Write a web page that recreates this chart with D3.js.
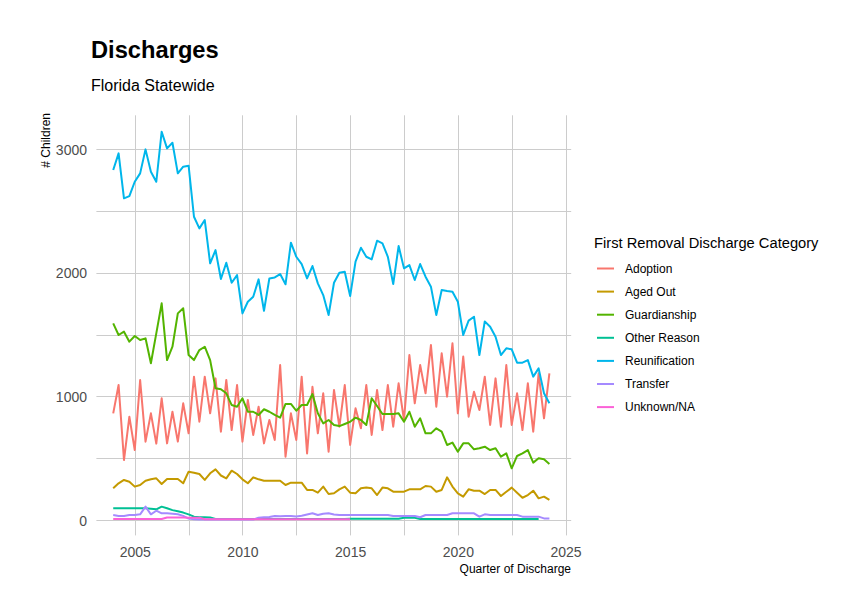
<!DOCTYPE html>
<html>
<head>
<meta charset="utf-8">
<script src="https://cdn.jsdelivr.net/npm/d3@7"></script>
<style>
  body { margin: 0; background: #fff; }
  svg text { font-family: "Liberation Sans", Arial, sans-serif; }
</style>
</head>
<body>
<svg id="chart" width="867" height="614"></svg>
<script>
// quarters 2004 Q1 .. 2024 Q2
var startYear = 2004;
var nQuarters = 82;
var quarters = d3.range(nQuarters).map(function (i) { return startYear + i / 4; });

var categories = ['Adoption', 'Aged Out', 'Guardianship', 'Other Reason', 'Reunification', 'Transfer', 'Unknown/NA'];
var colors = ['#F8766D', '#C49A00', '#53B400', '#00C094', '#00B6EB', '#A58AFF', '#FB61D7'];

var adoption = [863, 1092, 485, 836, 566, 1133, 634, 863, 618, 985, 620, 876, 634, 944, 701, 1160, 795, 1160, 863, 1146,
  715, 1133, 728, 1092, 634, 971, 688, 917, 620, 809, 647, 1254, 512, 863, 647, 1160, 539, 1078, 701, 1025,
  553, 1052, 755, 1092, 607, 904, 742, 1092, 688, 1052, 728, 1092, 755, 1106, 809, 1335, 944, 1254, 1025, 1416,
  917, 1349, 998, 1430, 863, 1322, 836, 1038, 890, 1160, 769, 1146, 755, 1254, 769, 1025, 728, 1106, 715, 1187,
  823, 1187];
var agedOut = [256, 297, 324, 310, 270, 283, 318, 329, 337, 291, 332, 332, 332, 297, 391, 383, 372, 324, 378, 410,
  360, 337, 399, 372, 329, 297, 345, 329, 318, 318, 318, 318, 283, 302, 302, 302, 243, 243, 221, 270,
  210, 216, 248, 270, 221, 216, 256, 262, 256, 202, 262, 256, 229, 229, 229, 248, 248, 248, 275, 270,
  229, 243, 345, 270, 216, 189, 248, 237, 237, 210, 243, 243, 194, 229, 262, 221, 180, 202, 237, 175,
  189, 162];
var guardianship = [1591, 1497, 1524, 1443, 1489, 1456, 1470, 1268, 1510, 1753, 1294, 1402, 1672, 1713, 1335, 1294, 1375, 1402, 1294, 1066,
  1058, 1025, 930, 917, 985, 876, 876, 850, 896, 876, 850, 828, 939, 939, 884, 930, 930, 1019, 863, 782,
  809, 769, 760, 777, 795, 828, 809, 769, 985, 922, 858, 858, 858, 863, 795, 876, 755, 823, 701, 701,
  742, 715, 607, 626, 553, 620, 620, 572, 580, 593, 566, 580, 512, 539, 418, 518, 539, 566, 464, 499,
  491, 453];
var otherReason = [94, 94, 94, 94, 94, 94, 94, 90, 86, 108, 95, 80, 70, 60, 45, 27, 22, 22, 20, 8,
  8, 8, 8, 8, 8, 8, 8, 8, 8, 8, 8, 8, 8, 8, 8, 8, 8, 8, 8, 8,
  8, 8, 8, 8, 10, 10, 10, 10, 10, 10, 10, 10, 10, 10, 18, 18, 18, 8, 8, 8,
  8, 8, 8, 8, 8, 8, 8, 8, 8, 8, 8, 8, 8, 8, 8, 8, 8, 8, 8, 8,
  null, null];
var reunification = [2832, 2967, 2603, 2621, 2737, 2805, 2999, 2818, 2737, 3142, 3007, 3053, 2805, 2859, 2867, 2454, 2360, 2427, 2077, 2184,
  1950, 2082, 1920, 1982, 1672, 1766, 1807, 1947, 1693, 1955, 1963, 1990, 1907, 2244, 2130, 2071, 1955, 2055, 1915, 1820,
  1658, 1920, 2001, 2009, 1812, 2090, 2203, 2130, 2109, 2260, 2239, 2130, 1909, 2217, 2036, 2063, 1942, 2071, 1969, 1888,
  1658, 1861, 1853, 1847, 1766, 1497, 1613, 1645, 1335, 1607, 1564, 1483, 1335, 1389, 1381, 1273, 1273, 1294, 1160, 1227,
  1025, 944];
var transfer = [40, 33, 33, 40, 40, 46, 108, 46, 75, 54, 54, 50, 46, 33, 11, 5, 3, 3, 3, 3,
  3, 3, 3, 3, 3, 3, 3, 19, 22, 25, 33, 30, 33, 33, 28, 35, 45, 54, 40, 50,
  54, 45, 40, 40, 40, 40, 40, 40, 40, 40, 40, 40, 33, 33, 33, 33, 33, 22, 40, 40,
  40, 40, 40, 54, 54, 54, 54, 54, 27, 46, 40, 40, 40, 40, 40, 40, 27, 27, 27, 27,
  13, 13];
var unknownNA = [8, 8, 8, 8, 8, 8, 8, 8, 8, 8, 20, 20, 20, 20, 19, 19, 19, 6, 6, 6,
  6, 6, 6, 6, 6, 6, 6, 6, 6, 6, 6, 6, 6, 6, 6, 6, 6, 6, 6, 6,
  6, 6, 6, 6, 6, null, null, null, null, null, null, null, null, null, null, null, null, null, null, null,
  null, null, null, null, null, null, null, null, null, null, null, null, null, null, null, null, null, null, null, null,
  null, null];

var seriesValues = [adoption, agedOut, guardianship, otherReason, reunification, transfer, unknownNA];

var yTicks = [0, 1000, 2000, 3000];
var yMinor = [500, 1500, 2500];
var xTicks = [2005, 2010, 2015, 2020, 2025];
var xMinor = [2007.5, 2012.5, 2017.5, 2022.5];

var svg = d3.select('#chart');

var panelLeft = 91.4, panelRight = 571.2, panelTop = 112.3, panelBottom = 539.4;

// ggplot style 5% expansion
var xExt = d3.extent(quarters);
var xPad = (xExt[1] - xExt[0]) * 0.05;
var x = d3.scaleLinear().domain([xExt[0] - xPad, xExt[1] + xPad]).range([panelLeft, panelRight]);

var yMax = d3.max(seriesValues, function (s) { return d3.max(s); });
var yPad = yMax * 0.05;
var y = d3.scaleLinear().domain([-yPad, yMax + yPad]).range([panelBottom, panelTop]);

// grid
var grid = svg.append('g');
grid.selectAll('.hline').data(yMinor.concat(yTicks)).enter().append('line')
  .attr('x1', panelLeft + 5).attr('x2', panelRight)
  .attr('y1', function (d) { return Math.round(y(d)) + 0.5; })
  .attr('y2', function (d) { return Math.round(y(d)) + 0.5; })
  .attr('stroke', '#cccccc').attr('stroke-width', 1);
grid.selectAll('.vline').data(xMinor.concat(xTicks)).enter().append('line')
  .attr('y1', panelTop + 3).attr('y2', panelBottom - 4)
  .attr('x1', function (d) { return Math.round(x(d)) + 0.5; })
  .attr('x2', function (d) { return Math.round(x(d)) + 0.5; })
  .attr('stroke', '#cccccc').attr('stroke-width', 1);

// axes tick labels
var yAxis = d3.axisLeft(y).tickValues(yTicks).tickSize(0).tickPadding(0).tickFormat(d3.format('d'));
var gy = svg.append('g').attr('transform', 'translate(87,0)').call(yAxis);
gy.select('.domain').remove();
gy.selectAll('text').attr('fill', '#4d4d4d').attr('font-size', '14px').attr('dy', '0.36em');

var xAxis = d3.axisBottom(x).tickValues(xTicks).tickSize(0).tickPadding(0).tickFormat(d3.format('d'));
var gx = svg.append('g').attr('transform', 'translate(0,546)').call(xAxis);
gx.select('.domain').remove();
gx.selectAll('text').attr('fill', '#4d4d4d').attr('font-size', '14px').attr('dy', '0.75em');

// lines
var line = d3.line()
  .defined(function (d) { return d[1] != null; })
  .x(function (d) { return x(d[0]); })
  .y(function (d) { return y(d[1]); });

svg.append('g').selectAll('path')
  .data(seriesValues)
  .enter().append('path')
  .attr('d', function (s) { return line(s.map(function (v, i) { return [quarters[i], v]; })); })
  .attr('fill', 'none')
  .attr('stroke', function (s, i) { return colors[i]; })
  .attr('stroke-width', 2)
  .attr('stroke-linejoin', 'round');

// titles
svg.append('text').attr('x', 91).attr('y', 58)
  .attr('font-size', '23.7px').attr('font-weight', 'bold').attr('fill', '#000')
  .text('Discharges');
svg.append('text').attr('x', 91).attr('y', 91)
  .attr('font-size', '16px').attr('fill', '#000')
  .text('Florida Statewide');
svg.append('text')
  .attr('transform', 'translate(50,113) rotate(-90)')
  .attr('text-anchor', 'end')
  .attr('font-size', '12px').attr('fill', '#000')
  .text('# Children');
svg.append('text').attr('x', 571).attr('y', 573)
  .attr('text-anchor', 'end')
  .attr('font-size', '12px').attr('fill', '#000')
  .text('Quarter of Discharge');

// legend
var legend = svg.append('g').attr('transform', 'translate(594,0)');
legend.append('text').attr('x', 0).attr('y', 248)
  .attr('font-size', '14.7px').attr('fill', '#000')
  .text('First Removal Discharge Category');
var items = legend.selectAll('.item').data(categories).enter().append('g')
  .attr('transform', function (d, i) { return 'translate(0,' + (268.5 + i * 23.1) + ')'; });
items.append('line')
  .attr('x1', 3).attr('x2', 20).attr('y1', 0).attr('y2', 0)
  .attr('stroke', function (d, i) { return colors[i]; })
  .attr('stroke-width', 2);
items.append('text').attr('x', 31).attr('y', 0).attr('dy', '0.36em')
  .attr('font-size', '12px').attr('fill', '#000')
  .text(function (d) { return d; });
</script>
</body>
</html>
